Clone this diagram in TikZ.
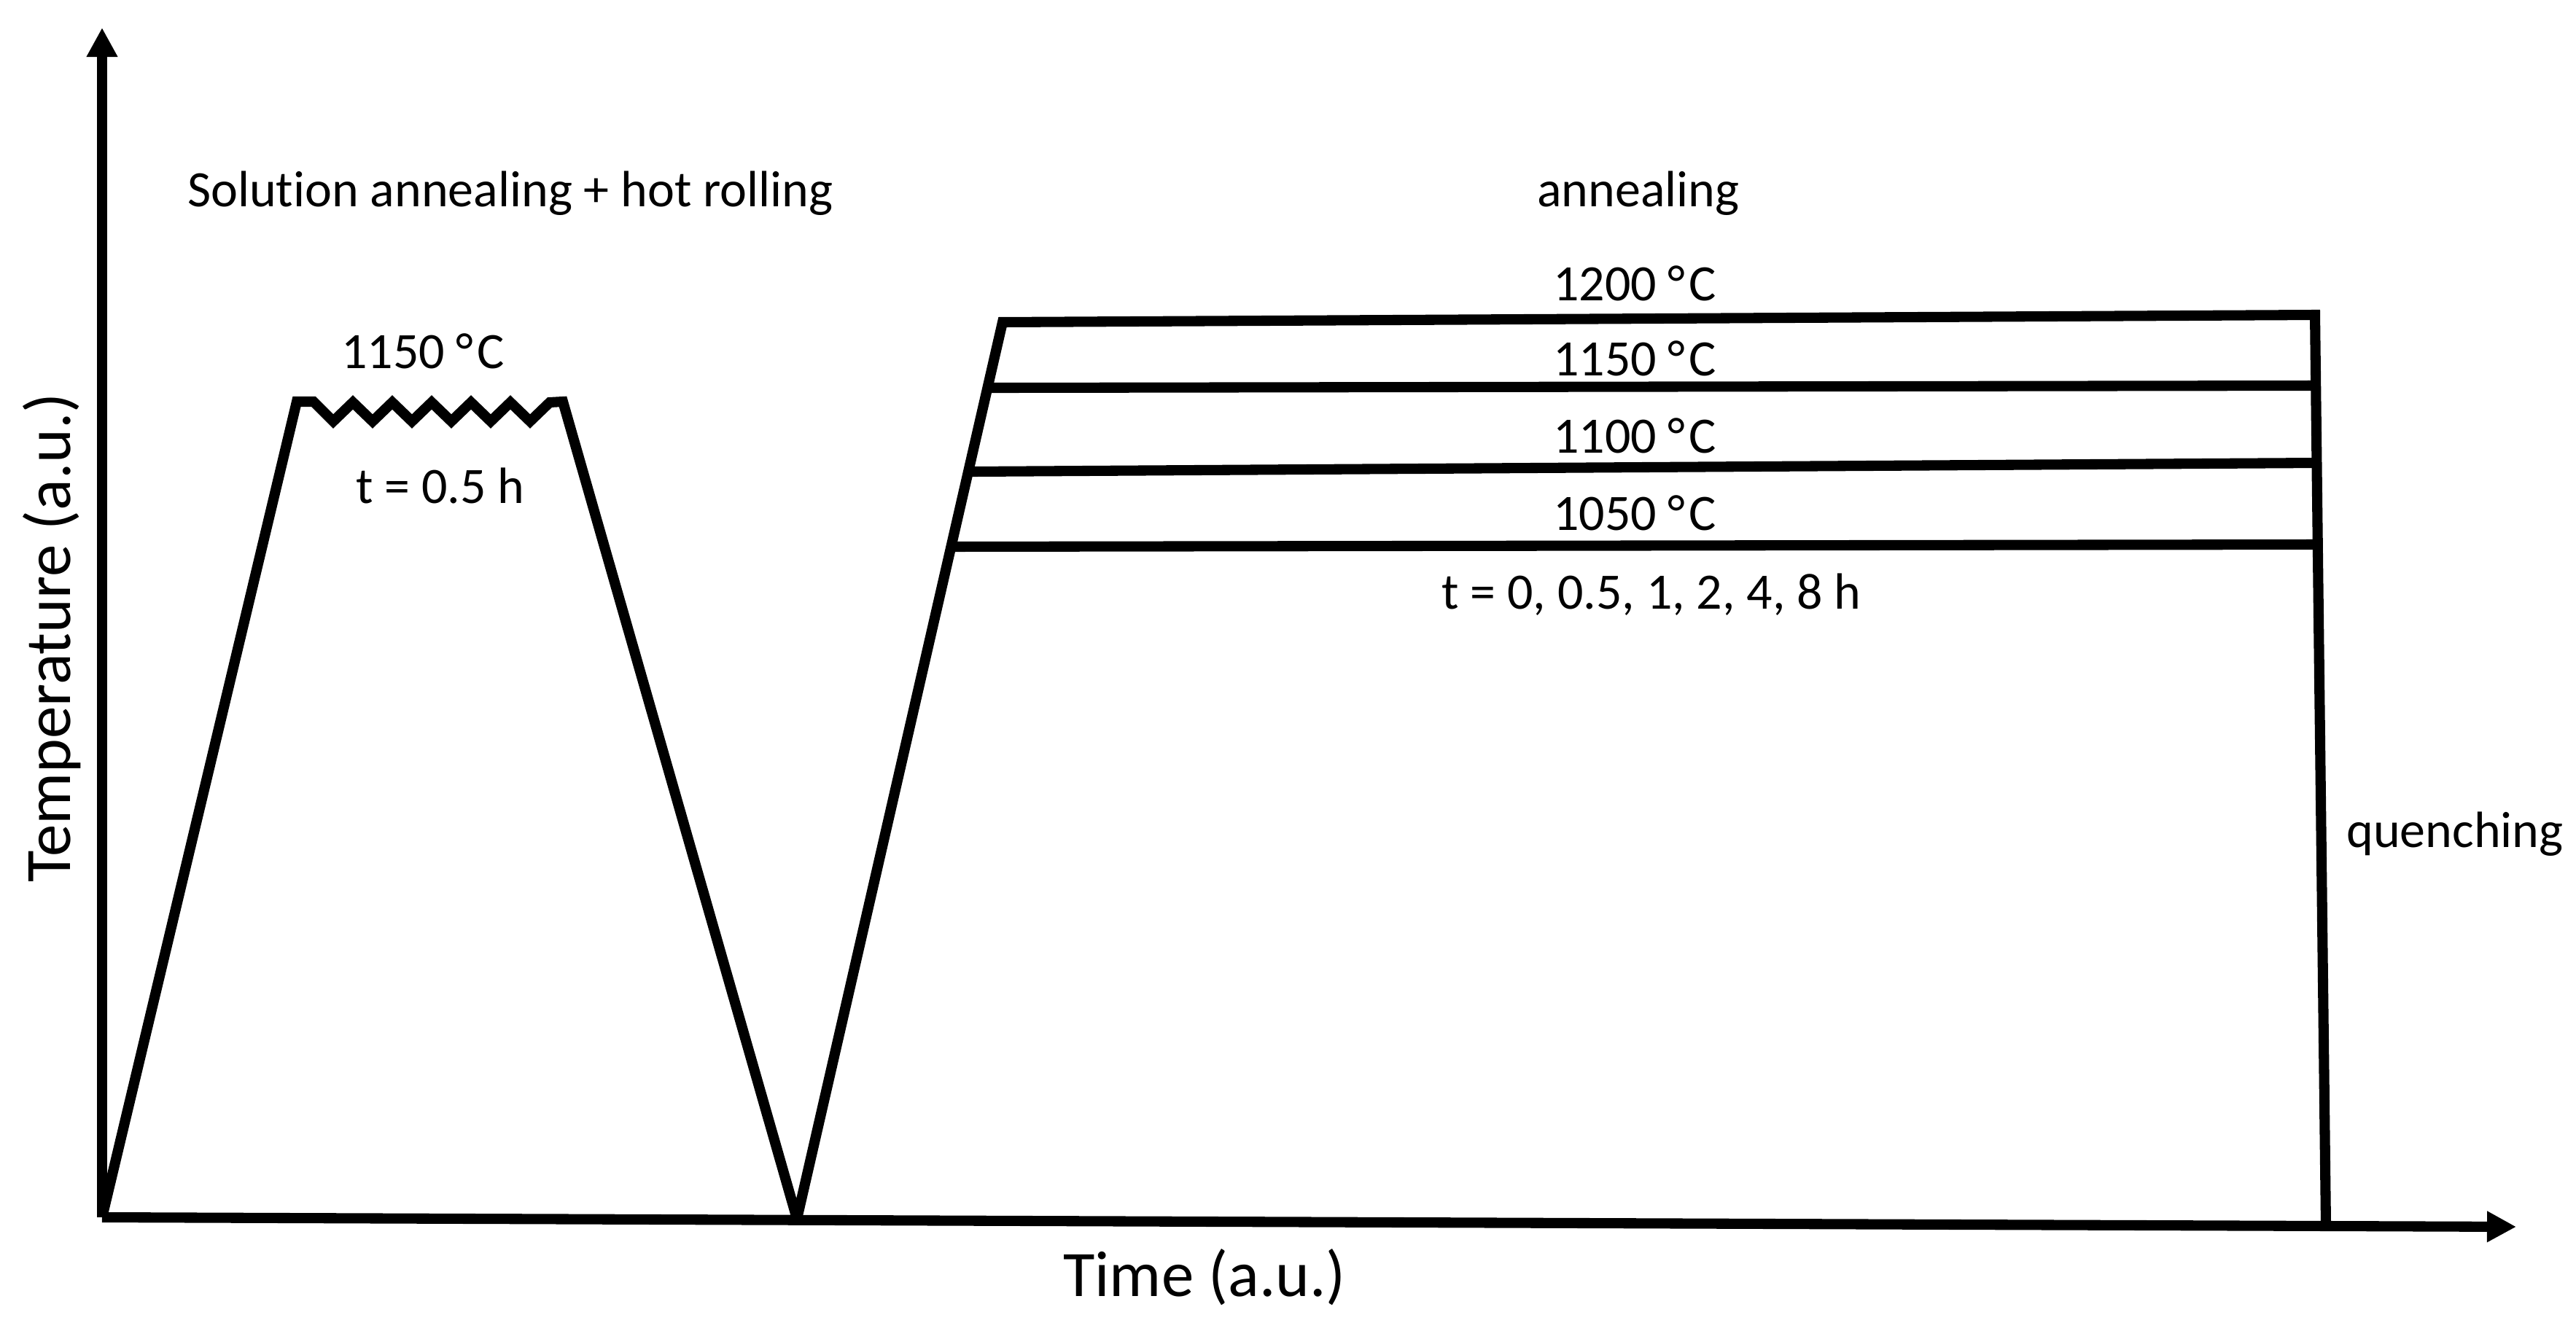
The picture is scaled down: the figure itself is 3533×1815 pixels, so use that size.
\documentclass[tikz,border=0pt]{standalone}
\usepackage{fontspec}
\setmainfont{Carlito}[Ligatures=NoCommon]
\usetikzlibrary{arrows.meta,calc}
\newcommand{\degC}{°\kern0.07em C}
\begin{document}
\begin{tikzpicture}[x=0.01cm,y=-0.01cm]
\tikzset{
  axisline/.style={line width=4pt, -{Triangle[length=0.4cm,width=0.4cm]}},
  curve/.style={line width=4pt, line join=miter, miter limit=3},
  lbl/.style={font=\fontsize{19.9}{24}\selectfont, inner sep=0pt, anchor=base},
  axlbl/.style={font=\fontsize{25.3}{30}\selectfont, inner sep=0pt, anchor=base},
}
\useasboundingbox (0,0) rectangle (3533,1815);
% key points
\coordinate (O) at (140,1670);
\coordinate (Ytip) at (140,38);
\coordinate (Xtip) at (3451,1683);
\coordinate (A1) at (407,551);
\coordinate (A2) at (772,551);
\coordinate (V) at (1093,1672);
\coordinate (B1) at (1375,442);
\coordinate (B2) at (3175,432);
\coordinate (Q) at (3190,1682);
\coordinate (L1150) at ($(V)!0.9268!(B1)$);
\coordinate (L1100) at ($(V)!0.8333!(B1)$);
\coordinate (L1050) at ($(V)!0.7496!(B1)$);
\coordinate (R1150) at ($(B2)!0.0776!(Q)$);
\coordinate (R1100) at ($(B2)!0.1624!(Q)$);
\coordinate (R1050) at ($(B2)!0.252!(Q)$);
% axes
\draw[axisline] (O) -- (Ytip);
\draw[axisline] (O) -- (Xtip);
% heat treatment path
\draw[curve] (O) -- (A1) -- (430,551)
  -- (457,578) -- (484,552) -- (511,578) -- (538,552) -- (565,578) -- (592,552)
  -- (619,578) -- (646,552) -- (673,578) -- (700,552) -- (727,578) -- (754,552)
  -- (A2) -- (V) -- (B1) -- (B2) -- (Q);
\draw[curve] (L1150) -- (R1150);
\draw[curve] (L1100) -- (R1100);
\draw[curve] (L1050) -- (R1050);
% labels
\node[lbl] (sol) at (700,283) {Solution annealing + hot rolling};
\node[lbl] (ann) at (2247,283) {annealing};
\node[lbl] (t1150a) at (580,505) {1150 \degC};
\node[lbl] (th) at (604,690) {t = 0.5 h};
\node[lbl] (t1200) at (2242,412) {1200 \degC};
\node[lbl] (t1150) at (2242,515) {1150 \degC};
\node[lbl] (t1100) at (2242,621) {1100 \degC};
\node[lbl] (t1050) at (2242,727) {1050 \degC};
\node[lbl] (tt) at (2265,835) {t = 0, 0.5, 1, 2, 4, 8 h};
\node[lbl] (quench) at (3367,1162) {quenching};
\node[axlbl] (xlab) at (1652,1778) {Time (a.u.)};
\node[axlbl, rotate=90] (ylab) at (97,875) {Temperature (a.u.)};
\end{tikzpicture}
\end{document}
